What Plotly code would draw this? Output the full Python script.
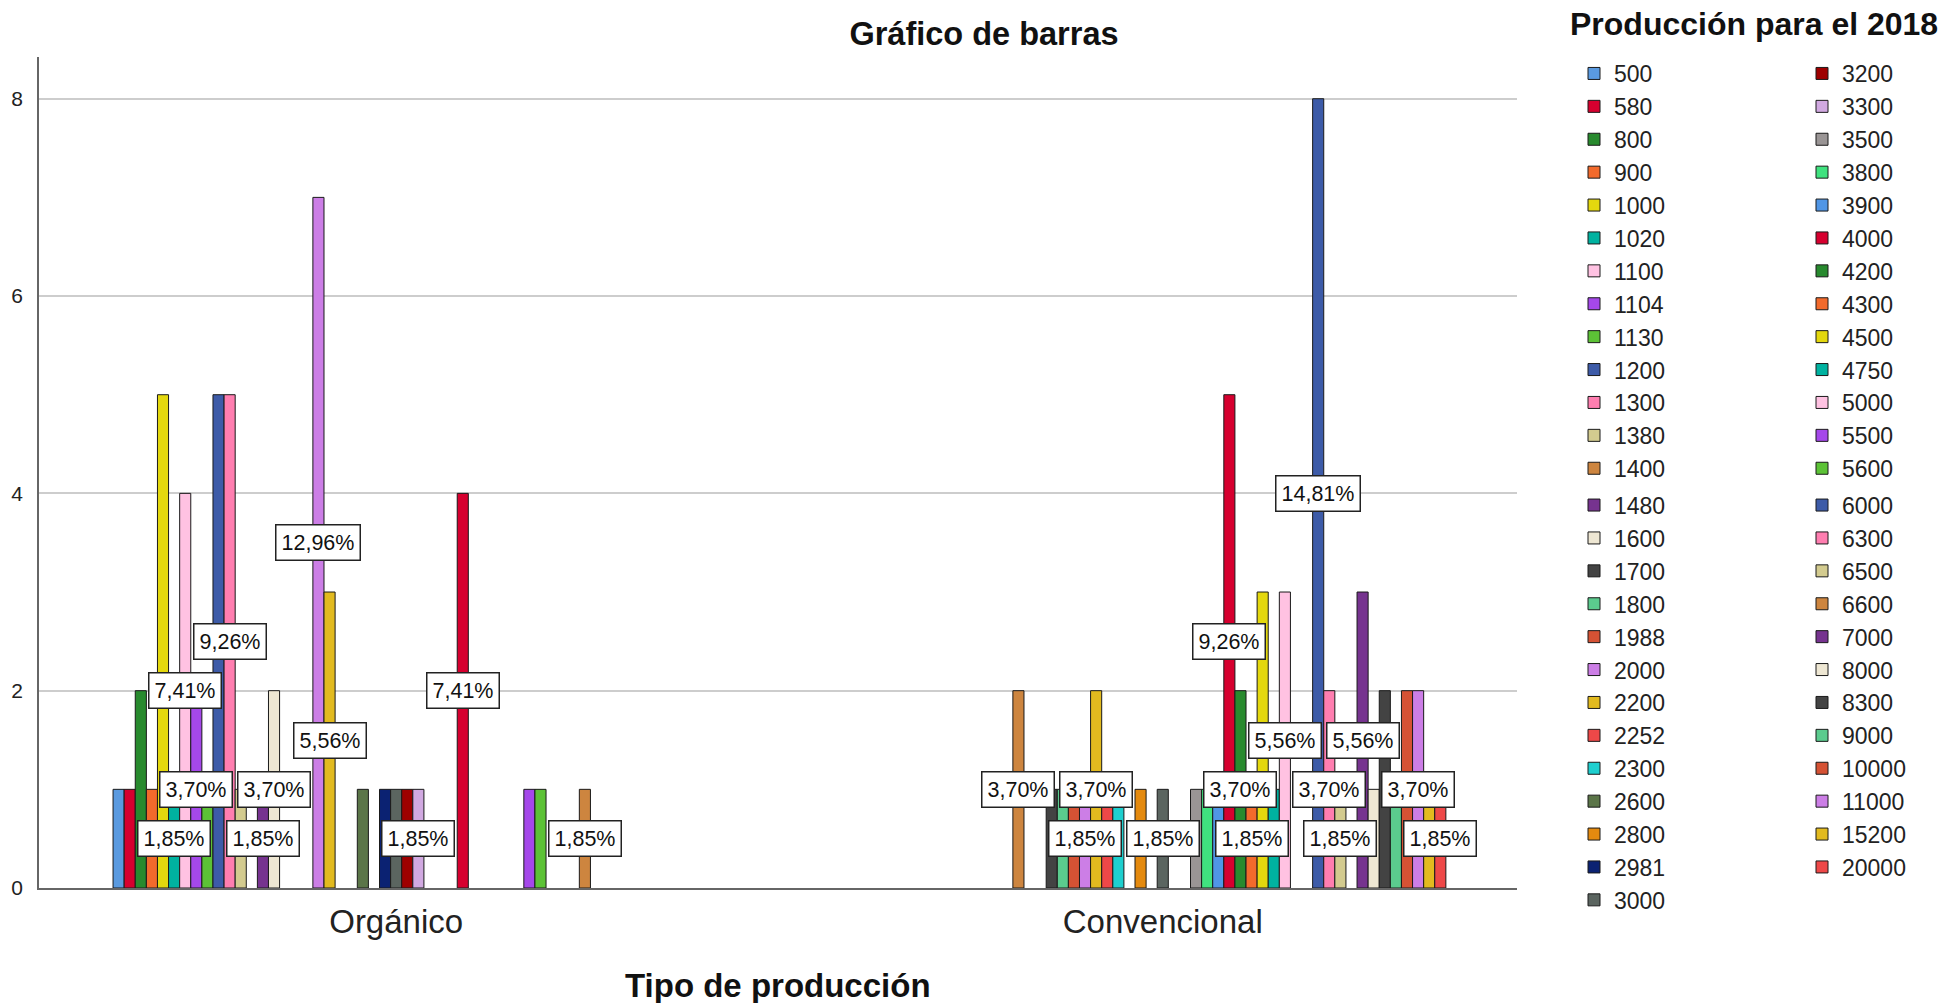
import plotly.graph_objects as go

# ---------------- data ----------------
groups = ["Orgánico", "Convencional"]

series = ["500", "580", "800", "900", "1000", "1020", "1100", "1104", "1130", "1200",
          "1300", "1380", "1400", "1480", "1600", "1700", "1800", "1988", "2000", "2200",
          "2252", "2300", "2600", "2800", "2981", "3000", "3200", "3300", "3500", "3800",
          "3900", "4000", "4200", "4300", "4500", "4750", "5000", "5500", "5600", "6000",
          "6300", "6500", "6600", "7000", "8000", "8300", "9000", "10000", "11000", "15200",
          "20000"]

organico = [1, 1, 2, 1, 5, 1, 4, 2, 1, 5,
            5, 1, 0, 1, 2, 0, 0, 0, 7, 3,
            0, 0, 1, 0, 1, 1, 1, 1, 0, 0,
            0, 4, 0, 0, 0, 0, 0, 1, 1, 0,
            0, 0, 1, 0, 0, 0, 0, 0, 0, 0,
            0]

convencional = [0, 0, 0, 0, 0, 0, 0, 0, 0, 0,
                0, 0, 2, 0, 0, 1, 1, 1, 1, 2,
                1, 1, 0, 1, 0, 1, 0, 0, 1, 1,
                1, 5, 2, 1, 3, 1, 3, 0, 0, 8,
                2, 1, 0, 3, 1, 2, 1, 2, 2, 1,
                1]

# which percentage labels are displayed (the others are hidden by overlap)
labels_organico = ["1020", "1100", "1104", "1300", "1480", "1600", "2000", "2200",
                   "3300", "4000", "6600"]
labels_convencional = ["1400", "2000", "2200", "3000", "4000", "4200", "4300", "5000",
                       "6000", "6300", "6500", "7000", "11000", "20000"]

colors = ["#5A9AE0", "#D6002F", "#288A2E", "#F26A2C", "#E4D80E", "#00B2A0", "#FFC2E2",
          "#A548EA", "#5CC236", "#3D5BA8", "#FF7EB0", "#D3CB8F", "#CD853F", "#76338F",
          "#EEE7D3", "#434343", "#5BCB8E", "#D55234", "#CC7EE6", "#E2BA1F", "#EE4848",
          "#1ECFCF", "#5B7548", "#E48A0F", "#0B2272", "#5B6560",
          "#9E0000", "#D1A9E1", "#9A9595", "#40E27F", "#5096E6", "#D6002F", "#288A2E",
          "#F26A2C", "#E4D80E", "#00B2A0", "#FFC2E2", "#A548EA", "#5CC236", "#3D5BA8",
          "#FF7EB0", "#D3CB8F", "#CD853F", "#76338F", "#EEE7D3", "#434343", "#5BCB8E",
          "#D55234", "#CC7EE6", "#E2BA1F", "#EE4848"]

y_ticks = [0, 2, 4, 6, 8]

legend_title = "Producción para el 2018"

# ---------------- figure ----------------
FONT = "Liberation Sans, Arial, sans-serif"
BARGAP = 0.2614
n = len(series)
left_count = 26
half = 13

OFS = 8                      # page body margin
W, H = 1955 - OFS, 1003 - OFS
ML, MT = 39 - OFS, 57 - OFS
PR, PB = 1517 - OFS, 888 - OFS
MR, MB = W - PR, H - PB
PW, PH = PR - ML, PB - MT


def px_x(page_x):
    return (page_x - OFS - ML) / PW


def px_y(page_y):
    return 1 - (page_y - OFS - MT) / PH


fig = go.Figure()
for i, s in enumerate(series):
    vals = [organico[i], convencional[i]]
    if i < left_count:
        lg = "legend" if i < half else "legend3"
    else:
        lg = "legend2" if (i - left_count) < half else "legend4"
    fig.add_trace(go.Bar(
        x=[0, 1],
        y=[v if v > 0 else None for v in vals],
        name=s,
        marker=dict(color=colors[i], line=dict(color="#1a1a1a", width=1)),
        legend=lg,
        hoverinfo="skip",
    ))

tot = [sum(organico), sum(convencional)]
slot = (1 - BARGAP) / n
annotations = []
for g, (vals, shown) in enumerate([(organico, labels_organico), (convencional, labels_convencional)]):
    for i, s in enumerate(series):
        if s in shown and vals[i] > 0:
            pct = vals[i] / tot[g] * 100
            xpos = g - (1 - BARGAP) / 2 + (i + 0.5) * slot
            annotations.append(dict(
                x=xpos, y=vals[i] / 2, xref="x", yref="y",
                text=f"{pct:.2f}".replace(".", ",") + "%",
                showarrow=False,
                font=dict(family=FONT, size=21.5, color="#111"),
                bgcolor="white", bordercolor="#222", borderwidth=1.5, borderpad=5,
            ))

annotations.append(dict(
    x=0.5, y=px_y(985), xref="paper", yref="paper", text="<b>Tipo de producción</b>",
    showarrow=False, font=dict(family=FONT, size=33, color="#111"), yanchor="middle"))
annotations.append(dict(
    x=px_x(1568), y=px_y(24), xref="paper", yref="paper", text="<b>" + legend_title + "</b>",
    showarrow=False, font=dict(family=FONT, size=32, color="#111"),
    xanchor="left", yanchor="middle"))

ROW0, ROWSTEP, OFF = 73.5, 33.2, 21.5
leg_common = dict(bgcolor="rgba(0,0,0,0)", tracegroupgap=0, traceorder="normal",
                  xanchor="left", yanchor="top",
                  font=dict(family=FONT, size=23, color="#222"))

fig.update_layout(
    width=W, height=H,
    paper_bgcolor="white", plot_bgcolor="white",
    margin=dict(l=ML, r=MR, t=MT, b=MB, autoexpand=False),
    barmode="group", bargap=BARGAP, bargroupgap=0,
    title=dict(text="<b>Gráfico de barras</b>", x=(984 - OFS) / W, xanchor="center",
               y=1 - (34 - OFS) / H, yanchor="middle",
               font=dict(family=FONT, size=32.5, color="#111")),
    xaxis=dict(range=[-0.4659, 1.4621], tickvals=[0, 1], ticktext=groups,
               showgrid=False, zeroline=False, showline=True, linecolor="#666",
               linewidth=1.5, ticks="", ticklabelstandoff=4,
               tickfont=dict(family=FONT, size=33, color="#222")),
    yaxis=dict(range=[0, 8.423], tickvals=y_ticks, showgrid=True, gridcolor="#cdcdcd",
               gridwidth=2, zeroline=False, showline=True, linecolor="#666", linewidth=1.5,
               ticks="", ticklabelstandoff=10,
               tickfont=dict(family=FONT, size=21, color="#222")),
    legend=dict(x=px_x(1574), y=px_y(ROW0 - OFF), **leg_common),
    legend3=dict(x=px_x(1574), y=px_y(ROW0 + half * ROWSTEP - OFF), **leg_common),
    legend2=dict(x=px_x(1802), y=px_y(ROW0 - OFF), **leg_common),
    legend4=dict(x=px_x(1802), y=px_y(ROW0 + half * ROWSTEP - OFF), **leg_common),
    annotations=annotations,
    showlegend=True,
)

fig.write_html("out.html")
